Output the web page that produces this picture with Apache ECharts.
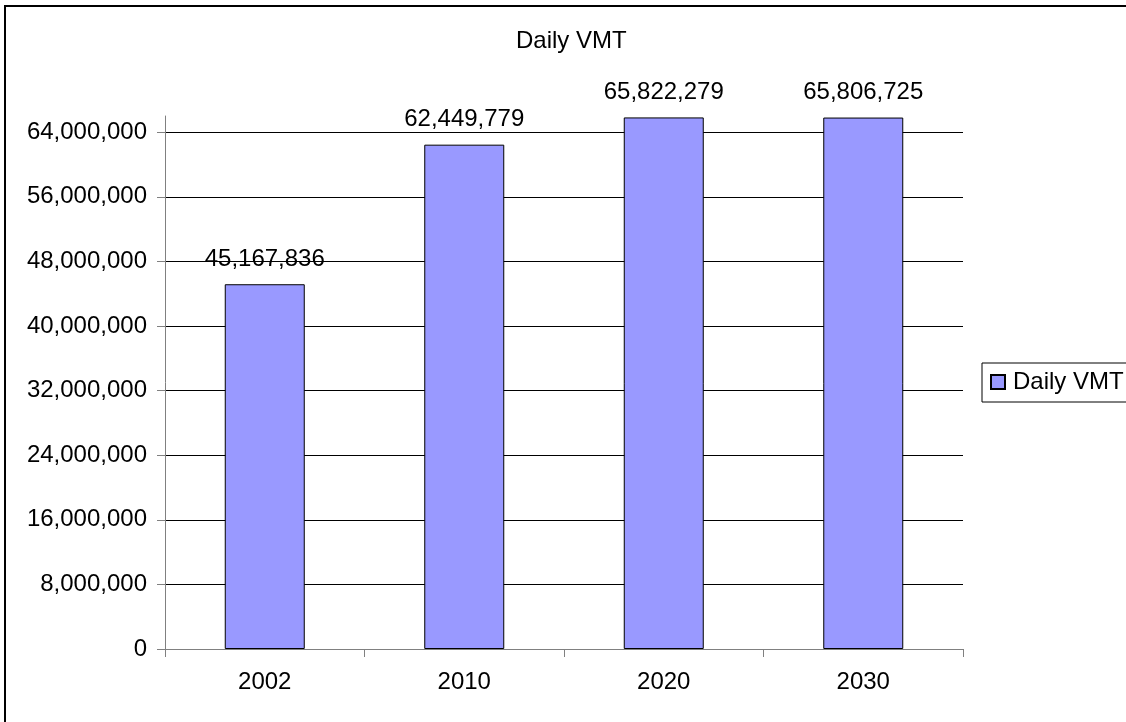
<!DOCTYPE html>
<html>
<head>
<meta charset="utf-8">
<script src="https://cdn.jsdelivr.net/npm/echarts@6/dist/echarts.min.js"></script>
<style>
html,body{margin:0;padding:0;background:#fff;}
#chart{width:1126px;height:722px;}
</style>
</head>
<body>
<div id="chart"></div>
<script>
var categories = ['2002', '2010', '2020', '2030'];
var dailyVMT = [45167836, 62449779, 65822279, 65806725];
var yMin = 0;
var yMax = 66000000;
var yInterval = 8000000;
var seriesName = 'Daily VMT';
var titleText = 'Daily VMT';

function fmt(v) {
  return String(Math.round(v)).replace(/\B(?=(\d{3})+(?!\d))/g, ',');
}

var FONT = '"Liberation Sans", Arial, sans-serif';
var FS = 24;
var chart = echarts.init(document.getElementById('chart'), null, {renderer: 'canvas'});
chart.setOption({
  animation: false,
  backgroundColor: '#ffffff',
  textStyle: {fontFamily: FONT},
  title: {
    text: titleText,
    left: 516,
    top: 29,
    padding: 0,
    textStyle: {fontFamily: FONT, fontSize: FS, fontWeight: 'normal', color: '#000'}
  },
  graphic: [{
    type: 'rect',
    shape: {x: 5, y: 6, width: 1300, height: 900},
    style: {fill: 'none', stroke: '#000', lineWidth: 2},
    silent: true,
    z: 100
  }],
  legend: {
    data: [seriesName],
    left: 982,
    top: 363,
    orient: 'vertical',
    backgroundColor: '#fff',
    borderColor: '#000',
    borderWidth: 1,
    padding: [7, 30, 8, 8],
    itemWidth: 14,
    itemHeight: 14,
    itemGap: 0,
    icon: 'rect',
    textStyle: {fontFamily: FONT, fontSize: FS, color: '#000', lineHeight: 24, padding: [0, 0, 0, 3]}
  },
  grid: {left: 165, right: 163, top: 116, bottom: 73, containLabel: false},
  xAxis: {
    type: 'category',
    data: categories,
    boundaryGap: true,
    axisLine: {show: true, lineStyle: {color: '#808080', width: 1}},
    axisTick: {show: true, length: 8, alignWithLabel: false, lineStyle: {color: '#808080'}},
    axisLabel: {fontFamily: FONT, fontSize: FS, color: '#000', margin: 21},
    splitLine: {show: false}
  },
  yAxis: {
    type: 'value',
    min: yMin,
    max: yMax,
    interval: yInterval,
    axisLine: {show: true, lineStyle: {color: '#808080', width: 1}},
    axisTick: {show: true, length: 8, lineStyle: {color: '#808080'}},
    axisLabel: {fontFamily: FONT, fontSize: FS, color: '#000', margin: 18, showMaxLabel: false,
      formatter: function (v) { return v >= yMax ? '' : fmt(v); }},
    splitLine: {show: true, showMaxLine: false, lineStyle: {color: '#000', width: 1}}
  },
  series: [{
    name: seriesName,
    type: 'bar',
    data: dailyVMT,
    barWidth: 80,
    itemStyle: {color: '#9999FF', borderColor: '#000', borderWidth: 1},
    label: {
      show: true,
      position: 'top',
      distance: 13,
      fontFamily: FONT,
      fontSize: FS,
      color: '#000',
      formatter: function (p) { return fmt(p.value); }
    }
  }]
});
</script>
</body>
</html>
